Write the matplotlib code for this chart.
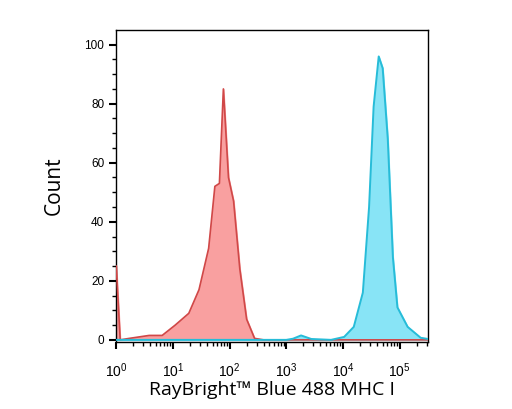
import matplotlib.pyplot as plt
import numpy as np

plt.rcParams['mathtext.fontset'] = 'custom'
plt.rcParams['mathtext.rm'] = 'Liberation Sans'
plt.rcParams['mathtext.it'] = 'Liberation Sans'

# x in log10 units (10^0 at 0)
red_x = [0.0, 0.07, 0.23, 0.58, 0.81, 1.04, 1.28, 1.46, 1.63, 1.74, 1.82, 1.89, 1.98, 2.07, 2.18, 2.30, 2.44, 2.6, 5.5]
red_y = [25, 0, 0.5, 1.5, 1.5, 5, 9, 17, 31, 52, 53, 85, 55, 47, 24, 7, 0.5, 0, 0]
blue_x = [0.0, 3.0, 3.12, 3.26, 3.44, 3.79, 4.02, 4.19, 4.35, 4.46, 4.54, 4.63, 4.70, 4.79, 4.88, 4.96, 5.14, 5.37, 5.5]
blue_y = [0, 0, 0.4, 1.5, 0.3, 0, 1, 4.4, 16, 45, 79, 96, 92, 68, 28, 11, 4.4, 0.7, 0.3]
decades = [0, 1, 2, 3, 4, 5]

fig = plt.figure(figsize=(5.12, 4.09), dpi=100)
ax = fig.add_axes([0.227, 0.164, 0.609, 0.763])

ax.fill_between(red_x, red_y, color='#f9a0a0', zorder=2)
ax.plot(red_x, red_y, color='#d04848', lw=1.2, zorder=3)
ax.fill_between(blue_x, blue_y, color='#88e4f6', zorder=2)
ax.plot(blue_x, blue_y, color='#27bcd8', lw=1.4, zorder=3)

ax.set_xlim(0, 5.5)
ax.set_ylim(-0.7, 105)

ax.set_xticks(decades)
ax.set_xticklabels([r'$10^{%d}$' % d for d in decades], fontsize=10)
minors = [d + np.log10(m) for d in decades for m in range(2, 10) if d + np.log10(m) < 5.5]
ax.set_xticks(minors, minor=True)
ax.set_yticks(range(0, 101, 20))
ax.set_yticks(range(0, 101, 5), minor=True)
ax.tick_params(axis='y', labelsize=8.5, direction='out', length=5, width=1.5)
ax.tick_params(axis='y', which='minor', length=3, width=1)
ax.tick_params(axis='x', direction='out', length=5, width=1.5, pad=9)
ax.tick_params(axis='x', which='minor', length=3, width=1)
for lbl in ax.get_yticklabels():
    lbl.set_family('Liberation Sans')

ax.set_ylabel('Count', fontsize=15, family='Open Sans', labelpad=14)
ax.set_xlabel('RayBright™ Blue 488 MHC I', fontsize=14, family='Open Sans', labelpad=1)
for s in ax.spines.values():
    s.set_linewidth(1)

fig.savefig('out.png')
